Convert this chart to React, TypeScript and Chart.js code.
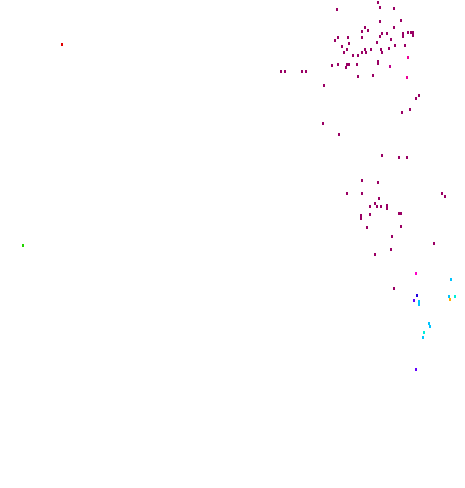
import React, { useEffect, useRef } from "react";
import { Chart, registerables } from "chart.js";

Chart.register(...registerables);

// Each series: x values and y values
const maroonX = [337, 378, 380, 380, 394, 401, 365, 368, 394, 382, 387, 362, 403, 403, 408, 411, 413, 413, 380, 338, 348, 362, 391, 335, 349, 377, 395, 405, 342, 347, 365, 371, 381, 382, 389, 344, 362, 366, 353, 358, 332, 338, 347, 349, 346, 357, 378, 378, 281, 285, 302, 306, 358, 373, 324, 419, 416, 410, 402, 323, 339, 382, 399, 407, 362, 378, 347, 362, 442, 445, 379, 375, 377, 381, 387, 387, 370, 370, 361, 361, 399, 401, 401, 367, 392, 391, 434, 375, 394];
const maroonY = [9, 2, 7, 21, 8, 20, 27, 30, 27, 33, 33, 31, 33, 36, 32, 32, 32, 35, 36, 37, 37, 37, 39, 40, 43, 42, 45, 45, 46, 49, 49, 49, 49, 52, 48, 52, 52, 52, 55, 55, 65, 64, 64, 64, 67, 64, 61, 63, 71, 71, 71, 71, 76, 75, 85, 95, 98, 109, 112, 123, 134, 155, 157, 157, 180, 182, 193, 193, 193, 196, 198, 203, 206, 206, 205, 208, 206, 214, 215, 218, 213, 213, 226, 227, 236, 249, 243, 254, 288];
const magentaX = [390];
const magentaY = [66];
const pinkX = [407.5, 407];
const pinkY = [57, 77];
const hotX = [416];
const hotY = [273];
const redX = [62];
const redY = [44];
const greenX = [23];
const greenY = [245];
const blueX = [417];
const blueY = [295];
const purpleX = [414, 416];
const purpleY = [300, 369];
const cyanX = [451, 449, 419, 419, 429, 430, 423];
const cyanY = [279, 296, 301, 304, 323, 326, 337];
const aquaX = [455, 424];
const aquaY = [296, 332];
const orangeX = [450];
const orangeY = [299];

const seriesList = [
  { name: "maroon", xs: maroonX, ys: maroonY, color: "#9a0064" },
  { name: "magenta", xs: magentaX, ys: magentaY, color: "#c0008c" },
  { name: "pink", xs: pinkX, ys: pinkY, color: "#ee0098" },
  { name: "hot", xs: hotX, ys: hotY, color: "#ff00c8" },
  { name: "red", xs: redX, ys: redY, color: "#e00000" },
  { name: "green", xs: greenX, ys: greenY, color: "#22d400" },
  { name: "blue", xs: blueX, ys: blueY, color: "#2000e0" },
  { name: "purple", xs: purpleX, ys: purpleY, color: "#6200ff" },
  { name: "cyan", xs: cyanX, ys: cyanY, color: "#00c4ff" },
  { name: "aqua", xs: aquaX, ys: aquaY, color: "#00f0d8" },
  { name: "orange", xs: orangeX, ys: orangeY, color: "#ffb000" },
];

function makeDot(color: string) {
  const c = document.createElement("canvas");
  c.width = 2;
  c.height = 3;
  const g = c.getContext("2d")!;
  g.fillStyle = color;
  g.fillRect(0, 0, 2, 3);
  return c;
}

export default function App() {
  const ref = useRef<HTMLCanvasElement | null>(null);
  useEffect(() => {
    document.body.style.margin = "0";
    const canvas = ref.current!;
    const chart = new Chart(canvas, {
      type: "scatter",
      data: {
        datasets: seriesList.map((s) => ({
          label: s.name,
          data: s.xs.map((x, i) => ({ x, y: s.ys[i] })),
          backgroundColor: s.color,
          borderColor: s.color,
          pointStyle: makeDot(s.color),
          pointRadius: 1.5,
          clip: false as any,
        })),
      },
      options: {
        animation: false,
        responsive: false,
        maintainAspectRatio: false,
        layout: { padding: 0, autoPadding: false },
        plugins: { legend: { display: false }, tooltip: { enabled: false } },
        scales: {
          x: { type: "linear", min: 0, max: 465, display: false },
          y: { type: "linear", min: 0, max: 488, reverse: true, display: false },
        },
      },
    });
    return () => chart.destroy();
  }, []);
  return (
    <div style={{ width: 465, height: 488, background: "#ffffff" }}>
      <canvas ref={ref} width={465} height={488} style={{ display: "block" }} />
    </div>
  );
}
